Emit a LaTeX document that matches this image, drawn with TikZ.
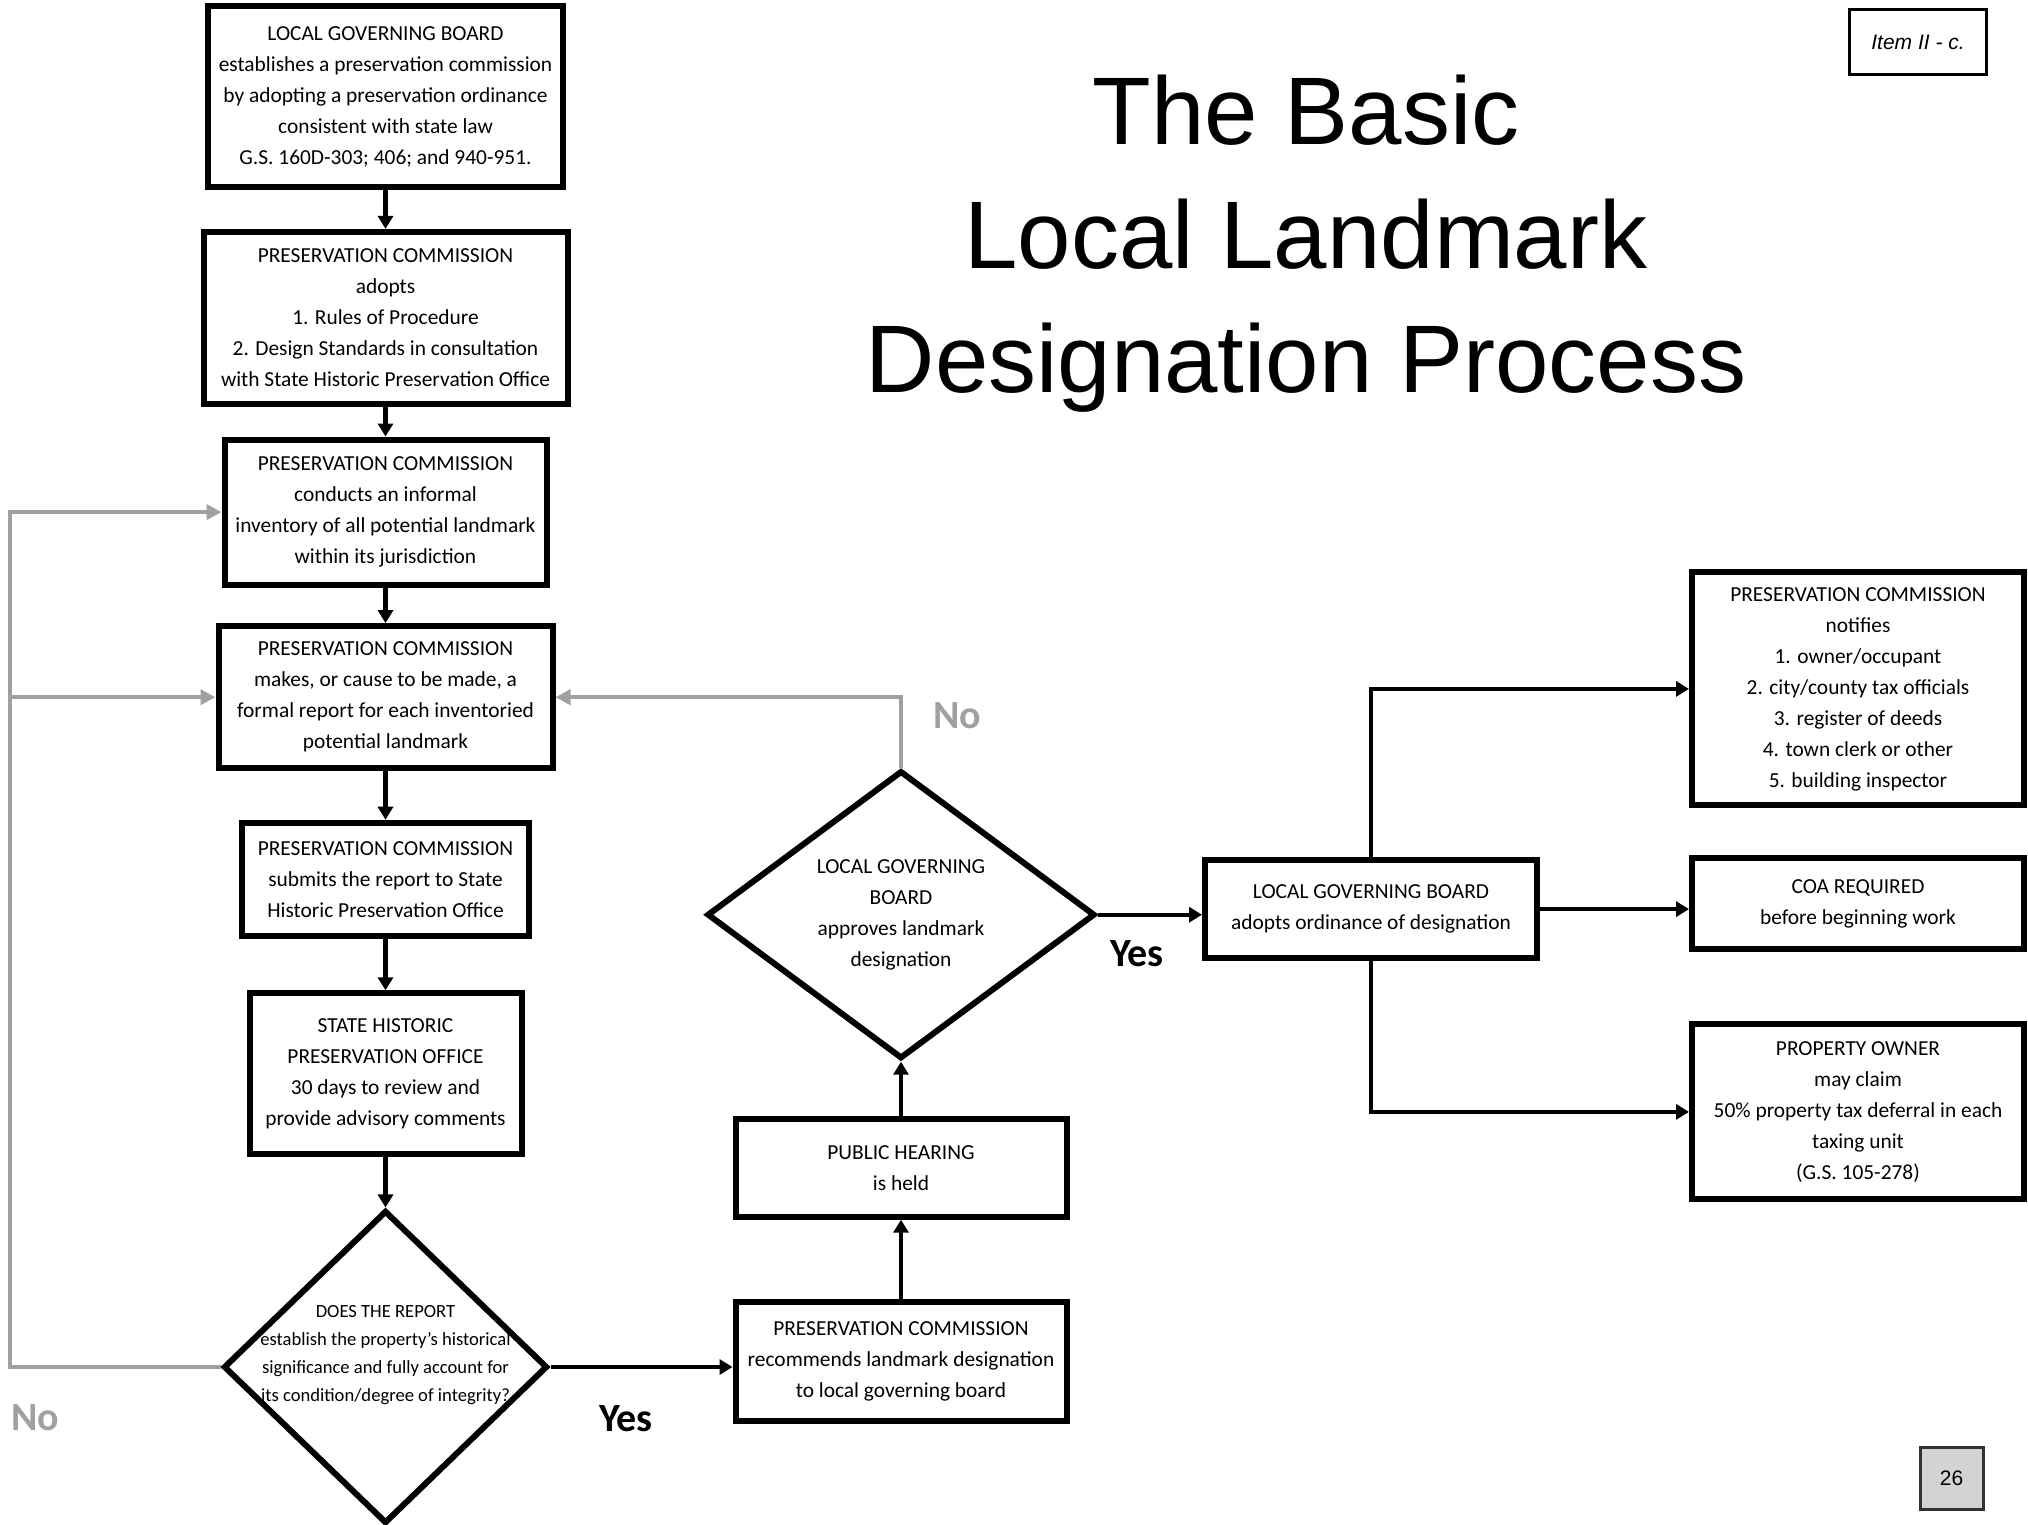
\documentclass[tikz,border=0pt]{standalone}
\usepackage{fontspec}
\setmainfont{Carlito}
\newfontfamily\titlefont{Liberation Sans}
\usetikzlibrary{positioning,shapes.geometric,arrows.meta}
\definecolor{backgray}{RGB}{160,160,160}
\definecolor{pagegray}{RGB}{211,211,211}

\begin{document}
\begin{tikzpicture}[x=0.5pt, y=-0.5pt,
    box/.style={draw, line width=3pt, align=center, inner sep=2pt, font=\fontsize{10.7}{15.5}\selectfont},
    decision/.style={draw, diamond, line width=3pt, inner sep=0pt},
    flow/.style={line width=2.2pt, -{Triangle[length=6.5pt, width=7.5pt]}},
    back/.style={line width=2pt, draw=backgray, -{Triangle[length=7.5pt, width=7.5pt]}},
    answer/.style={font=\fontsize{20}{24}\selectfont\bfseries}]
    \useasboundingbox (0,0) rectangle (2028,1525);

    % left column
    \node[box, minimum width=177.5pt, minimum height=90pt] (gov) at (385.5,96.5) {LOCAL GOVERNING BOARD\\ establishes a preservation commission\\ by adopting a preservation ordinance\\ consistent with state law\\ G.S. 160D-303; 406; and 940-951.};
    \node[box, minimum width=182pt, minimum height=86.1pt, below=19.7pt of gov] (rules) {PRESERVATION COMMISSION\\ adopts\\ 1. Rules of Procedure\\ 2. Design Standards in consultation\\ with State Historic Preservation Office};
    \node[box, minimum width=161pt, minimum height=72.6pt, below=14.7pt of rules] (survey) {PRESERVATION COMMISSION\\ conducts an informal\\ inventory of all potential landmark\\ within its jurisdiction};
    \node[box, minimum width=167pt, minimum height=71.1pt, below=17.7pt of survey] (report) {PRESERVATION COMMISSION\\ makes, or cause to be made, a\\ formal report for each inventoried\\ potential landmark};
    \node[box, minimum width=143.5pt, minimum height=56.6pt, below=24.2pt of report] (submit) {PRESERVATION COMMISSION\\ submits the report to State\\ Historic Preservation Office};
    \node[box, minimum width=136pt, minimum height=80.1pt, below=25.7pt of submit] (shpo) {STATE HISTORIC\\ PRESERVATION OFFICE\\ 30 days to review and\\ provide advisory comments};
    \node[decision, minimum width=162pt, minimum height=156.5pt, below=25.5pt of shpo,
        label={[font=\fontsize{9.3}{14}\selectfont, align=center, yshift=6pt]center:{DOES THE REPORT\\ establish the property's historical\\ significance and fully account for\\ its condition/degree of integrity?}}] (check) {};

    % middle column
    \node[box, minimum width=165.5pt, minimum height=59.5pt, right=91pt of check, yshift=2.9pt] (recommend) {PRESERVATION COMMISSION\\ recommends landmark designation\\ to local governing board};
    \node[box, minimum width=165.5pt, minimum height=49pt, above=39.5pt of recommend] (hearing) {PUBLIC HEARING\\ is held};
    \node[decision, minimum width=194pt, minimum height=144pt, above=27pt of hearing,
        label={[font=\fontsize{10.7}{15.5}\selectfont, align=center]center:{LOCAL GOVERNING\\ BOARD\\ approves landmark\\ designation}}] (approve) {};
    \node[box, minimum width=166pt, minimum height=49pt, right=52pt of approve, yshift=2.8pt] (ordinance) {LOCAL GOVERNING BOARD\\ adopts ordinance of designation};

    % right column
    \node[box, minimum width=166pt, minimum height=45.5pt, right=74.5pt of ordinance, yshift=2.6pt] (coa) {COA REQUIRED\\ before beginning work};
    \node[box, minimum width=166pt, minimum height=116.5pt, above=23.5pt of coa] (notify) {PRESERVATION COMMISSION\\ notifies\\ 1. owner/occupant\\ 2. city/county tax officials\\ 3. register of deeds\\ 4. town clerk or other\\ 5. building inspector};
    \node[box, minimum width=166pt, minimum height=87.5pt, below=34.5pt of coa] (owner) {PROPERTY OWNER\\ may claim\\ 50\% property tax deferral in each\\ taxing unit\\ (G.S. 105-278)};

    \draw[flow] (gov) -- (rules);
    \draw[flow] (rules) -- (survey);
    \draw[flow] (survey) -- (report);
    \draw[flow] (report) -- (submit);
    \draw[flow] (submit) -- (shpo);
    \draw[flow] (shpo) -- (check);
    \draw[flow] (check.east) -- (check.east -| recommend.west);
    \draw[flow] (recommend) -- (hearing);
    \draw[flow] (hearing) -- (approve);
    \draw[flow] (approve.east) -- (approve.east -| ordinance.west);
    \draw[flow] (ordinance.east) -- (ordinance.east -| coa.west);
    \draw[flow] (ordinance.north) |- (notify);
    \draw[flow] (ordinance.south) |- (owner);

    % loops back
    \coordinate (margin) at (10,0);
    \draw[back] (check.west) -- (check.west -| margin) |- (survey);
    \draw[back] (margin |- report) -- (report);
    \draw[back] (approve.north) |- (report);

    \node[answer, text=backgray] (no1) at (35,1418) {No};
    \node[answer] (yes1) at (626,1419) {Yes};
    \node[answer, text=backgray] (no2) at (957,716) {No};
    \node[answer] (yes2) at (1137,954) {Yes};

    \node[font=\titlefont\fontsize{48}{62}\selectfont, align=center] (title) at (1306,244) {The Basic\\ Local Landmark\\ Designation Process};
    \node[draw, line width=1.5pt, minimum width=68.5pt, minimum height=32.5pt, font=\titlefont\itshape\fontsize{10.5}{12}\selectfont] (item) at (1918,42.5) {Item II - c.};
    \node[draw=black!80, fill=pagegray, line width=1.5pt, minimum width=31.5pt, minimum height=31pt, font=\titlefont\fontsize{10.5}{12}\selectfont] (page) at (1951.5,1478) {26};
\end{tikzpicture}
\end{document}
